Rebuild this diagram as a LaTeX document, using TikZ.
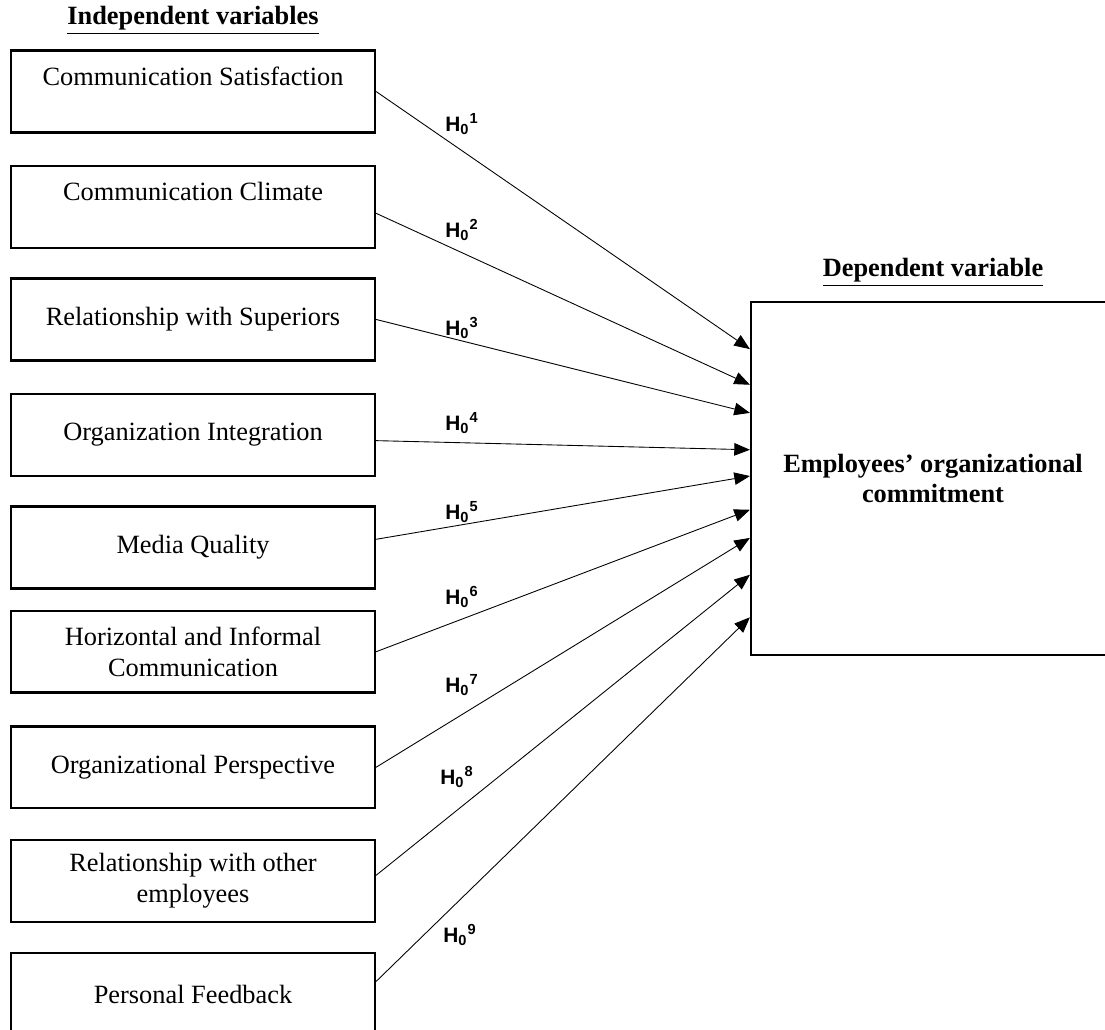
\documentclass[tikz,border=0pt]{standalone}
\usepackage{fontspec}
\setmainfont{Liberation Serif}
\newfontfamily\hypfont{Liberation Sans}
\usepackage{tikz}
\usetikzlibrary{positioning, arrows.meta}

\begin{document}
\begin{tikzpicture}[
    block/.style={rectangle, draw=black, line width=1.1pt, minimum height=1.31cm, minimum width=5.82cm, align=center, font=\fontsize{12}{14}\selectfont},
    target/.style={rectangle, draw=black, line width=1.1pt, minimum height=5.64cm, minimum width=5.82cm, align=center, font=\fontsize{12}{14}\selectfont\bfseries},
    arr/.style={-{Triangle[length=2.5mm, width=2mm]}, thin, black},
    hyp/.style={font={\hypfont\bfseries\fontsize{9.5}{11}\selectfont}, inner sep=0pt},
    heading/.style={font=\fontsize{12}{14}\selectfont\bfseries, inner sep=0pt},
]
\useasboundingbox (0,0) rectangle (17.68,-16.464);
\clip (0,0) rectangle (17.68,-16.464);

% Independent variables
\node[block] (cs) at (3.088,-1.464) {Communication Satisfaction\\\mbox{}};
\node[block, below=0.5cm of cs] (cc) {Communication Climate\\\mbox{}};
\node[block, below=0.45cm of cc] (rs) {Relationship with Superiors};
\node[block, below=0.5cm of rs] (oi) {Organization Integration};
\node[block, below=0.45cm of oi] (mq) {Media Quality};
\node[block, below=0.32cm of mq] (hic) {Horizontal and Informal\\Communication};
\node[block, below=0.5cm of hic] (op) {Organizational Perspective};
\node[block, below=0.47cm of op] (roe) {Relationship with other\\employees};
\node[block, below=0.46cm of roe] (pf) {Personal Feedback};

% Dependent variable
\node[target] (oc) at (14.928,-7.656) {Employees’ organizational\\commitment};

% Headings
\node[heading, above=0.23cm of cs] (indep) {\underline{Independent variables}};
\node[heading, above=0.22cm of oc] (dep) {\underline{Dependent variable}};

% Arrows
\draw[arr] (cs.east) -- ([yshift=2.07cm]oc.west);
\draw[arr] ([yshift=-0.1cm]cc.east) -- ([yshift=1.5cm]oc.west);
\draw[arr] (rs.east) -- ([yshift=1.05cm]oc.west);
\draw[arr] ([yshift=-0.09cm]oi.east) -- ([yshift=0.46cm]oc.west);
\draw[arr] ([yshift=0.13cm]mq.east) -- ([yshift=0.04cm]oc.west);
\draw[arr] (hic.east) -- ([yshift=-0.5cm]oc.west);
\draw[arr] (op.east) -- ([yshift=-0.95cm]oc.west);
\draw[arr] ([yshift=0.09cm]roe.east) -- ([yshift=-1.54cm]oc.west);
\draw[arr] ([yshift=0.2cm]pf.east) -- ([yshift=-2.22cm]oc.west);

% Hypotheses
\node[hyp] (h1) at (7.392,-1.984) {H\textsubscript{0}\textsuperscript{1}};
\node[hyp] (h2) at (7.392,-3.68) {H\textsubscript{0}\textsuperscript{2}};
\node[hyp] (h3) at (7.392,-5.248) {H\textsubscript{0}\textsuperscript{3}};
\node[hyp] (h4) at (7.392,-6.768) {H\textsubscript{0}\textsuperscript{4}};
\node[hyp] (h5) at (7.392,-8.192) {H\textsubscript{0}\textsuperscript{5}};
\node[hyp] (h6) at (7.392,-9.552) {H\textsubscript{0}\textsuperscript{6}};
\node[hyp] (h7) at (7.392,-10.96) {H\textsubscript{0}\textsuperscript{7}};
\node[hyp] (h8) at (7.312,-12.432) {H\textsubscript{0}\textsuperscript{8}};
\node[hyp] (h9) at (7.36,-14.96) {H\textsubscript{0}\textsuperscript{9}};

\end{tikzpicture}
\end{document}
